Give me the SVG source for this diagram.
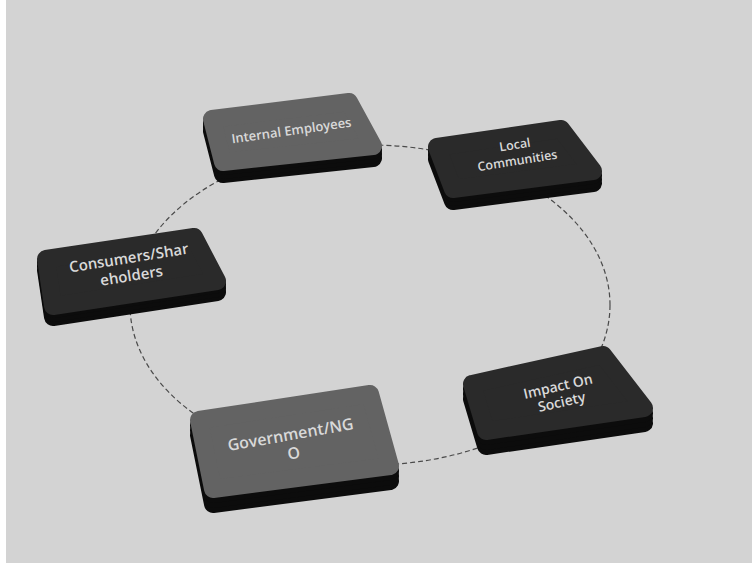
<svg xmlns="http://www.w3.org/2000/svg" width="752" height="565" viewBox="0 0 752 565">
<style>
.side{fill:#0c0c0c;stroke:#0c0c0c;stroke-width:18;stroke-linejoin:round}
.dark{fill:#2a2a2a;stroke:#2a2a2a;stroke-width:18;stroke-linejoin:round}
.gray{fill:#636363;stroke:#636363;stroke-width:18;stroke-linejoin:round}
.lbl{font-family:"Open Sans","Liberation Sans",sans-serif;font-weight:600;fill:#d9d9d9;text-anchor:middle}
.ring{fill:none;stroke:#4a4a4a;stroke-width:1.2;stroke-dasharray:5 3}
</style>
<rect x="0" y="0" width="752" height="565" fill="#ffffff"/>
<rect x="6" y="0" width="746" height="563" fill="#d3d3d3"/>
<g id="connectors">
<ellipse class="ring" cx="370" cy="305" rx="240" ry="160"/>
</g>
<g id="node-internal-employees">
<polygon class="side" points="212,119 349,102 373,146 223,162" transform="translate(0,12)"/>
<polygon class="side" points="212,119 349,102 373,146 223,162" transform="translate(0,8)"/>
<polygon class="side" points="212,119 349,102 373,146 223,162" transform="translate(0,4)"/>
<polygon class="gray" points="212,119 349,102 373,146 223,162"/>
<text class="lbl" font-size="13" transform="translate(292,135) rotate(-8)">Internal Employees</text>
</g>
<g id="node-local-communities">
<polygon class="side" points="437,147 561,129 593,171 453,189" transform="translate(0,12)"/>
<polygon class="side" points="437,147 561,129 593,171 453,189" transform="translate(0,8)"/>
<polygon class="side" points="437,147 561,129 593,171 453,189" transform="translate(0,4)"/>
<polygon class="dark" points="437,147 561,129 593,171 453,189"/>
<text class="lbl" font-size="12.5" transform="translate(516,152) rotate(-9)"><tspan x="0" y="-3">Local</tspan><tspan x="0" y="13">Communities</tspan></text>
</g>
<g id="node-consumers">
<polygon class="side" points="46,259 194,237 217,281 53,306" transform="translate(0,11)"/>
<polygon class="side" points="46,259 194,237 217,281 53,306" transform="translate(0,7)"/>
<polygon class="side" points="46,259 194,237 217,281 53,306" transform="translate(0,3)"/>
<polygon class="dark" points="46,259 194,237 217,281 53,306"/>
<text class="lbl" font-size="15" transform="translate(130,266) rotate(-9)"><tspan x="0" y="-3">Consumers/Shar</tspan><tspan x="0" y="15">eholders</tspan></text>
</g>
<g id="node-government">
<polygon class="side" points="199,420 370,394 390,466 213,489" transform="translate(0,15)"/>
<polygon class="side" points="199,420 370,394 390,466 213,489" transform="translate(0,10)"/>
<polygon class="side" points="199,420 370,394 390,466 213,489" transform="translate(0,5)"/>
<polygon class="gray" points="199,420 370,394 390,466 213,489"/>
<text class="lbl" font-size="16" transform="translate(292,443) rotate(-10)"><tspan x="0" y="-3">Government/NG</tspan><tspan x="0" y="16">O</tspan></text>
</g>
<g id="node-impact">
<polygon class="side" points="472,384 603,355 644,408 486,431" transform="translate(0,15)"/>
<polygon class="side" points="472,384 603,355 644,408 486,431" transform="translate(0,10)"/>
<polygon class="side" points="472,384 603,355 644,408 486,431" transform="translate(0,5)"/>
<polygon class="dark" points="472,384 603,355 644,408 486,431"/>
<text class="lbl" font-size="14" transform="translate(560,395) rotate(-13)"><tspan x="0" y="-4">Impact On</tspan><tspan x="0" y="12">Society</tspan></text>
</g>
</svg>
